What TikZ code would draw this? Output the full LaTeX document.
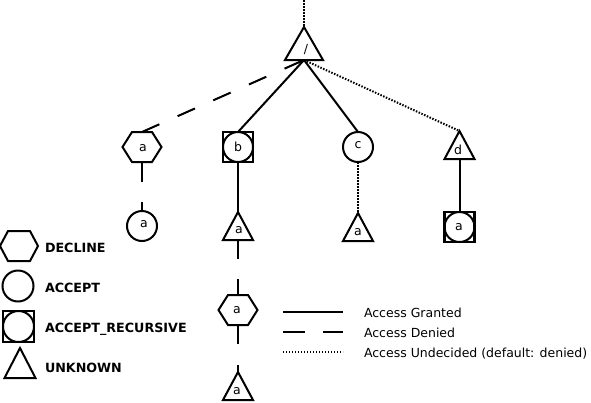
\documentclass[tikz,border=0pt]{standalone}
\usepackage{fontspec}
\setmainfont{DejaVu Sans}
\begin{document}
\begin{tikzpicture}[x=1pt,y=-1pt,line width=2pt,line join=miter,
  lbl/.style={inner sep=0pt,font=\fontsize{12.5}{14}\selectfont,anchor=base},
  legb/.style={inner sep=0pt,font=\fontsize{12.7}{15}\selectfont\bfseries,anchor=base west},
  legt/.style={inner sep=0pt,font=\fontsize{12.5}{15}\selectfont,anchor=base west},
  granted/.style={line width=2pt},
  denied/.style={line width=2pt,dash pattern=on 19pt off 20pt},
  undecided/.style={line width=2pt,dash pattern=on 1.5pt off 1.5pt},
  hexa/.pic={\draw (-19.5,0) -- (-10,-15) -- (10,-15) -- (19.5,0) -- (10,15) -- (-10,15) -- cycle;},
  circ/.pic={\draw (0,0) circle[radius=15];},
  sqcirc/.pic={\draw[line width=2.5pt] (-15,-15) rectangle (15,15); \draw (0,0) circle[radius=15];},
  tri/.pic={\draw (0,0) -- (15,28) -- (-15,28) -- cycle;}
]
\useasboundingbox (0,0) rectangle (591,402);

% root
\draw (304,27) -- (323,60) -- (285,60) -- cycle;
\node[lbl] (rootl) at (306,53) {/};
\coordinate (top) at (304,0);
\coordinate (rootA) at (304,27);
\coordinate (rootB) at (304,60);
\draw[undecided] (top) -- (rootA);

% level 1
\pic at (142,147) {hexa};
\node[lbl] (la) at (143,151) {a};
\coordinate (hAt) at (142,132);
\coordinate (hAb) at (142,162);

\pic at (238,147) {sqcirc};
\node[lbl] (lb) at (238,151) {b};
\coordinate (bt) at (238,132);
\coordinate (bb) at (238,162);

\pic at (358,147) {circ};
\node[lbl] (lc) at (358,148) {c};
\coordinate (ct) at (358,132);
\coordinate (cb) at (358,162);

\pic at (459.5,131) {tri};
\node[lbl] (ld) at (458,154) {d};
\coordinate (dt) at (459.5,131);
\coordinate (db) at (459.5,159);

\draw[denied] (hAt) -- (rootB);
\draw[granted] (rootB) -- (bt);
\draw[granted] (rootB) -- (ct);
\draw[undecided] (rootB) -- (dt);

% under a
\coordinate (s1) at (142,182);
\coordinate (s2) at (142,202);
\pic at (142,226) {circ};
\node[lbl] (laa) at (144,227) {a};
\coordinate (aat) at (142,211);
\draw[granted] (hAb) -- (s1);
\draw[granted] (s2) -- (aat);

% under b
\pic at (238,212) {tri};
\node[lbl] (lba) at (239,233) {a};
\coordinate (bat) at (238,212);
\coordinate (bab) at (238,240);
\draw[granted] (bb) -- (bat);
\coordinate (s3) at (238,259);
\coordinate (s4) at (238,279);
\draw[granted] (bab) -- (s3);
\pic at (238,310) {hexa};
\node[lbl] (lbaa) at (237,313) {a};
\coordinate (bht) at (238,295);
\coordinate (bhb) at (238,325);
\draw[granted] (s4) -- (bht);
\coordinate (s5) at (238,344);
\coordinate (s6) at (238,365);
\draw[granted] (bhb) -- (s5);
\pic at (238,372) {tri};
\node[lbl] (lbaaa) at (237,394) {a};
\coordinate (btt) at (238,372);
\draw[granted] (s6) -- (btt);

% under c
\pic at (358,213) {tri};
\node[lbl] (lca) at (358,235) {a};
\coordinate (cat) at (358,213);
\draw[undecided] (cb) -- (cat);

% under d
\pic at (459.5,227) {sqcirc};
\node[lbl] (lda) at (459,230) {a};
\coordinate (dat) at (459.5,212);
\draw[granted] (db) -- (dat);

% legend shapes
\draw (0,246) -- (8,231) -- (30,231) -- (38,246) -- (30,261) -- (8,261) -- cycle;
\draw (18,286) circle[radius=15.5];
\draw[line width=2.5pt] (3,311) rectangle (34,342);
\draw (18.5,326.5) circle[radius=15.5];
\draw (20,348) -- (35.5,378) -- (4.5,378) -- cycle;
\node[legb] (kdec) at (44,252) {DECLINE};
\node[legb] (kacc) at (44,292) {ACCEPT};
\node[legb] (kaccr) at (44,332) {ACCEPT\_RECURSIVE};
\node[legb] (kunk) at (44,372) {UNKNOWN};

% legend lines
\coordinate (g1) at (283,312); \coordinate (g2) at (343,312);
\coordinate (d1) at (283,332); \coordinate (d2) at (343,332);
\coordinate (u1) at (283,352); \coordinate (u2) at (343,352);
\draw[granted] (g1) -- (g2);
\draw[line width=2pt,dash pattern=on 22pt off 18pt] (d1) -- (d2);
\draw[line width=1.2pt,dash pattern=on 1pt off 2pt] (u1) -- (u2);
\node[legt] (tg) at (363,317) {Access Granted};
\node[legt] (td) at (363,337) {Access Denied};
\node[legt] (tu) at (363,357) {Access Undecided (default: denied)};
\end{tikzpicture}
\end{document}
